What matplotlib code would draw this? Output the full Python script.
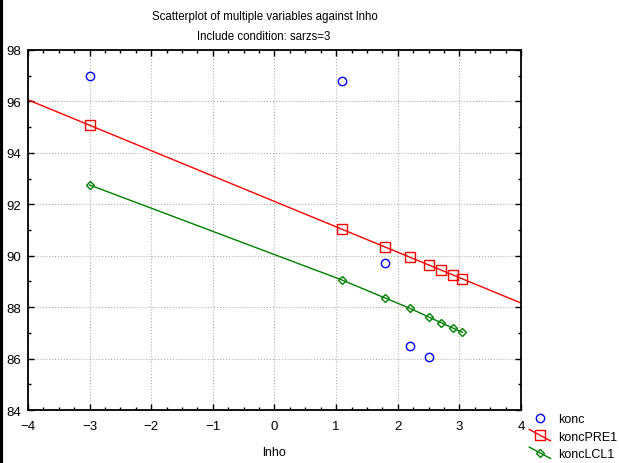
import numpy as np
import matplotlib
matplotlib.use('Agg')
import matplotlib.pyplot as plt
from matplotlib.legend_handler import HandlerLine2D
from matplotlib.lines import Line2D

plt.rcParams['font.family'] = ['Liberation Sans', 'DejaVu Sans']

# data
lnho_konc = [-3.0, 1.1, 1.8, 2.2, 2.5]
konc = [97.0, 96.8, 89.7, 86.5, 86.05]

lnho_pred = [-3.0, 1.1, 1.8, 2.2, 2.5, 2.7, 2.9, 3.05]
pre1_intercept = 92.11
pre1_slope = -0.9875
lcl1 = [92.75, 89.05, 88.35, 87.95, 87.62, 87.4, 87.18, 87.02]

x_ticks = [-4, -3, -2, -1, 0, 1, 2, 3, 4]
y_ticks = [84, 86, 88, 90, 92, 94, 96, 98]


class DiagHandler(HandlerLine2D):
    # statistica style: slanted line through the marker
    def create_artists(self, legend, orig_handle, xdescent, ydescent,
                       width, height, fontsize, trans):
        arts = super().create_artists(legend, orig_handle, xdescent, ydescent,
                                      width, height, fontsize, trans)
        line = arts[0]
        xd = np.asarray(line.get_xdata(), dtype=float)
        y0 = height * 1.15 - ydescent
        y1 = -height * 0.15 - ydescent
        line.set_ydata(np.linspace(y0, y1, len(xd)))
        return arts


fig = plt.figure(figsize=(6.19, 4.64), dpi=100)
ax = fig.add_axes([0.0452, 0.1142, 0.7965, 0.776])

xs = np.array(lnho_pred)
xl = np.array([-4, 4])
ax.plot(xl, pre1_intercept + pre1_slope * xl, color='red', lw=1, zorder=2)
ax.plot(xs, pre1_intercept + pre1_slope * xs, ls='none', marker='s', ms=6.5,
        mfc='none', mec='red', mew=1, zorder=3)
ax.plot(lnho_pred, lcl1, color='green', lw=1, marker='D', ms=4.5,
        mfc='none', mec='green', mew=1, zorder=3)
ax.plot(lnho_konc, konc, ls='none', marker='o', ms=6, mfc='none',
        mec='blue', mew=1, zorder=4)

ax.set_xlim(-4, 4)
ax.set_ylim(84, 98)
ax.set_xticks(x_ticks)
ax.set_yticks(y_ticks)
ax.set_xticks(np.arange(-4, 4.01, 0.25), minor=True)
ax.set_yticks(np.arange(84, 98.01, 1), minor=True)
ax.tick_params(which='both', direction='in', top=True, right=True,
               labelsize=9.5, color='black')
ax.tick_params(which='major', length=4, width=1)
ax.tick_params(which='minor', length=2.5, width=1)
ax.tick_params(axis='x', which='major', pad=7)
ax.tick_params(axis='y', which='major', pad=5)
ax.grid(True, which='major', color='#b0b0b0', ls=':', lw=0.8)
for s in ax.spines.values():
    s.set_linewidth(1.3)

ax.set_xlabel('lnho', fontsize=9, labelpad=10)

fig.text(0.428, 0.963, 'Scatterplot of multiple variables against lnho',
         ha='center', va='center', fontsize=8.3)
fig.text(0.426, 0.920, 'Include condition: sarzs=3',
         ha='center', va='center', fontsize=8.3)

# legend
h1 = Line2D([], [], ls='none', marker='o', ms=6, mfc='none', mec='blue')
h2 = Line2D([], [], color='red', lw=1, marker='s', ms=6.5, mfc='none', mec='red')
h3 = Line2D([], [], color='green', lw=1, marker='D', ms=4.5, mfc='none', mec='green')
fig.legend([h1, h2, h3], ['konc', 'koncPRE1', 'koncLCL1'],
           loc='upper left', bbox_to_anchor=(0.855, 0.108),
           frameon=False, fontsize=9, handlelength=1.7, handletextpad=0.6,
           labelspacing=0.45, borderaxespad=0, borderpad=0,
           handler_map={Line2D: DiagHandler()})

# black edge on left of the image
fig.add_artist(Line2D([0.002, 0.002], [0, 1], color='black', lw=3,
                      transform=fig.transFigure))

fig.savefig('out.png', dpi=100)
